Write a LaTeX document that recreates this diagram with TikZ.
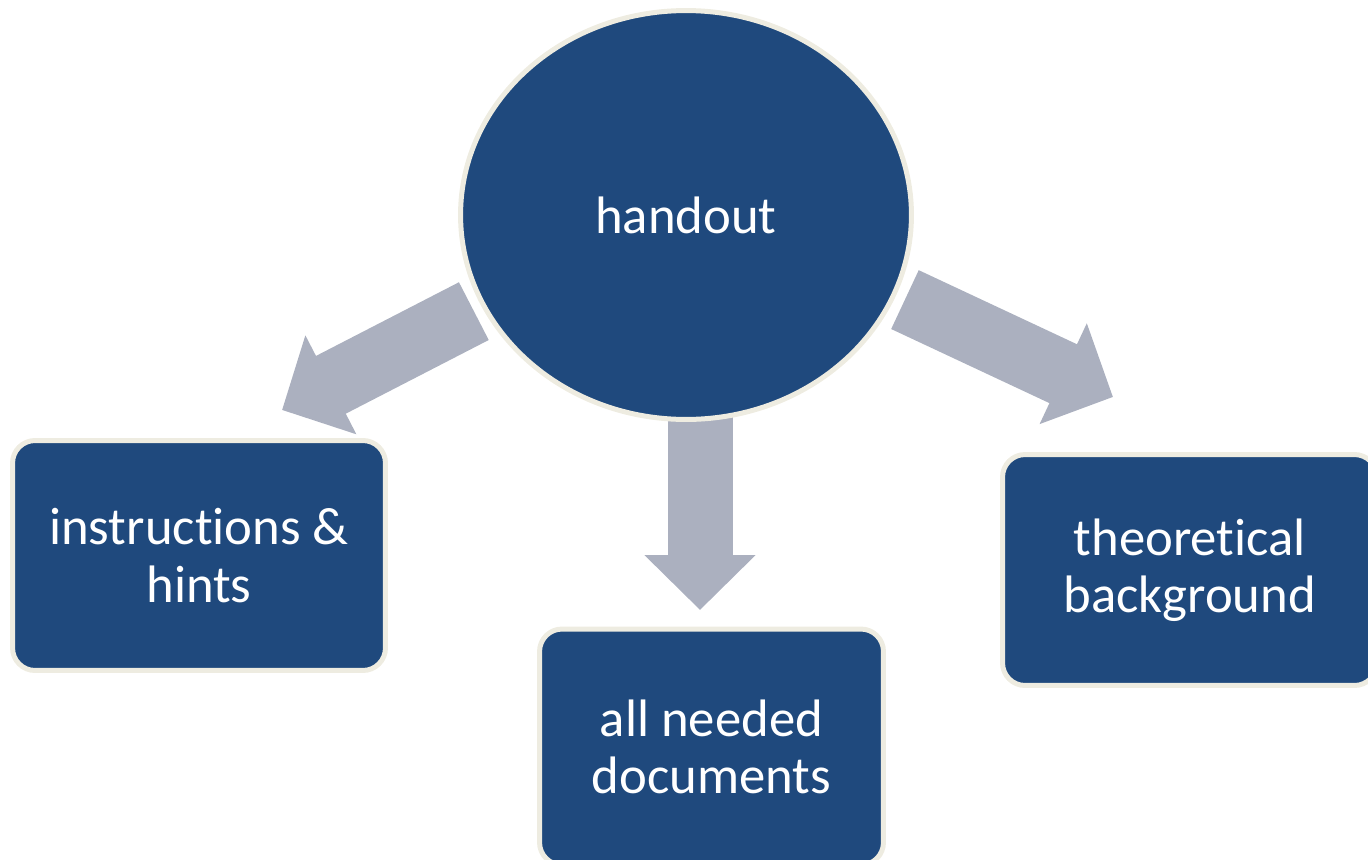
\documentclass[tikz,border=0pt]{standalone}
\usepackage{fontspec}
\setmainfont[RawFeature={-liga;-clig;-calt;-dlig}]{Carlito}
\usetikzlibrary{arrows.meta,backgrounds,shapes.geometric}
\definecolor{boxblue}{RGB}{31,73,125}
\definecolor{rimcream}{RGB}{238,236,225}
\definecolor{arrowgrey}{RGB}{171,176,191}
\begin{document}
\begin{tikzpicture}
    [x=0.02cm,y=-0.02cm,
     topic/.style={fill=boxblue,draw=rimcream,line width=0.1cm,text=white,
       font=\fontsize{30}{32.5}\selectfont,align=center,inner sep=0pt},
     item/.style={topic,rectangle,rounded corners=0.45cm},
     fat arrow/.style={arrowgrey,line width=1.3cm,
       -{Triangle[length=1.1cm,width=2.16cm]}}]
    \useasboundingbox (0,0) rectangle (1368,859);
    \node (handout) at (686,215) [topic,ellipse,minimum width=9.02cm,minimum height=8.18cm] {handout};
    \node (hints) at (199,555.5) [item,minimum width=7.46cm,minimum height=4.6cm] {instructions \&\\hints};
    \node (docs) at (711.5,747) [item,minimum width=6.88cm,minimum height=4.72cm] {all needed\\documents};
    \node (theory) at (1189.75,570) [item,minimum width=7.49cm,minimum height=4.62cm] {theoretical\\background};
    \coordinate (tipL) at (282,410);
    \coordinate (tipD) at (700,610);
    \coordinate (tipR) at (1113,397);
    \begin{scope}[on background layer]
      \draw [fat arrow] ([shift={(-7.5,5)}]handout.204) -- (tipL);
      \draw [fat arrow] (tipD |- handout.center) -- (tipD);
      \draw [fat arrow] ([shift={(9,4)}]handout.339) -- (tipR);
    \end{scope}
  \end{tikzpicture}
\end{document}
